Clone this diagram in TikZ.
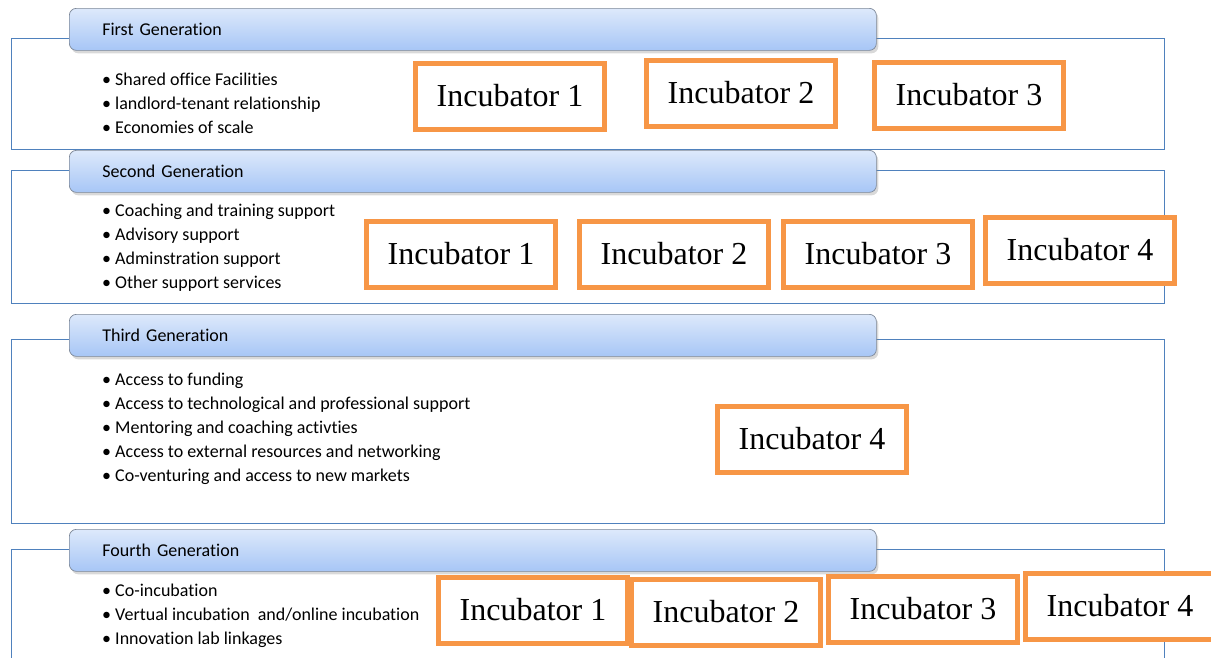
\documentclass[tikz,border=0pt]{standalone}
\usepackage{fontspec}
\setmainfont{Liberation Serif}
\newfontfamily\carlito[Ligatures=NoCommon]{Carlito}
\usetikzlibrary{shadows}
\definecolor{genblue}{HTML}{4F81BD}
\definecolor{tabtop}{HTML}{DDE9FB}
\definecolor{tabbot}{HTML}{A7C6F6}
\definecolor{tabgray}{HTML}{7D8898}
\definecolor{incorange}{HTML}{F79646}
\begin{document}
\begin{tikzpicture}[
        x=1pt, y=-1pt,
        frame/.style={
          draw=genblue,
          line width=1.1pt,
          anchor=north west,
          inner sep=0pt,
          minimum width=1153pt
        },
        gentab/.style={
          draw=tabgray,
          line width=0.7pt,
          rounded corners=7pt,
          top color=tabtop,
          bottom color=tabbot,
          drop shadow={opacity=0.3, shadow xshift=2pt, shadow yshift=-3pt},
          anchor=north west,
          minimum height=42pt,
          text width=741pt,
          inner xsep=33pt,
          inner ysep=0pt,
          align=left,
          font=\carlito\fontsize{18}{22}\selectfont
        },
        item/.style={
          anchor=base west,
          inner sep=0pt,
          font=\carlito\fontsize{18}{22}\selectfont
        },
        incbox/.style={
          draw=incorange,
          line width=5pt,
          fill=white,
          minimum width=189pt,
          minimum height=66pt,
          inner sep=0pt,
          font=\fontsize{32}{38}\selectfont
        }
      ]
      \useasboundingbox (0,0) rectangle (1211,657);

      % first generation
      \node[frame, minimum height=111pt] (frame1) at (11,38) {};
      \node[gentab] (tab1) at (69,8) {First Generation};
      \foreach \t [count=\i] in {Shared office Facilities,
          landlord-tenant relationship, Economies of scale}
        \node[item] (a\i) at (102,{61+24*\i}) {\textbullet\ \t};
      \node[incbox] (inc11) at (510,96) {Incubator 1};
      \node[incbox] (inc12) at (741,93) {Incubator 2};
      \node[incbox] (inc13) at (969,95) {Incubator 3};

      % second generation
      \node[frame, minimum height=133pt] (frame2) at (11,170) {};
      \node[gentab] (tab2) at (69,150) {Second Generation};
      \foreach \t [count=\i] in {Coaching and training support,
          Advisory support, Adminstration support, Other support services}
        \node[item] (b\i) at (102,{192+24*\i}) {\textbullet\ \t};
      \node[incbox] (inc21) at (461,254) {Incubator 1};
      \node[incbox] (inc22) at (674,254) {Incubator 2};
      \node[incbox] (inc23) at (878,254) {Incubator 3};
      \node[incbox] (inc24) at (1080,250) {Incubator 4};

      % third generation
      \node[frame, minimum height=184pt] (frame3) at (11,339) {};
      \node[gentab] (tab3) at (69,314) {Third Generation};
      \foreach \t [count=\i] in {Access to funding,
          Access to technological and professional support,
          Mentoring and coaching activties,
          Access to external resources and networking,
          Co-venturing and access to new markets}
        \node[item] (c\i) at (102,{361+24*\i}) {\textbullet\ \t};
      \node[incbox] (inc34) at (812,439) {Incubator 4};

      % fourth generation
      \node[frame, minimum height=130pt] (frame4) at (11,549) {};
      \node[gentab] (tab4) at (69,529) {Fourth Generation};
      \foreach \t [count=\i] in {Co-incubation,
          Vertual incubation\ \ and/online incubation,
          Innovation lab linkages}
        \node[item] (d\i) at (102,{572+24*\i}) {\textbullet\ \t};
      \node[incbox] (inc41) at (533,610) {Incubator 1};
      \node[incbox] (inc42) at (726,612) {Incubator 2};
      \node[incbox] (inc43) at (923,609) {Incubator 3};
      \node[incbox] (inc44) at (1120,606) {Incubator 4};
    \end{tikzpicture}
\end{document}
